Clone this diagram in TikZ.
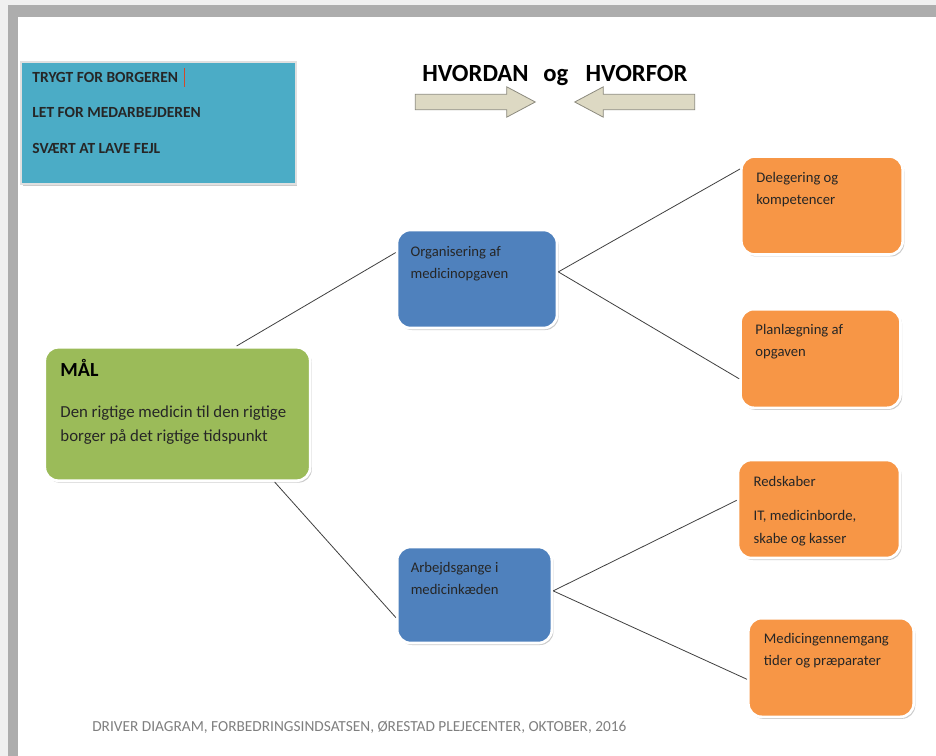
\documentclass[tikz,border=0pt]{standalone}
\usepackage{fontspec}
\setmainfont{Carlito}
\usepackage{tikz}
\usetikzlibrary{positioning,shapes.arrows,shadows}
\definecolor{safeteal}{HTML}{4BACC6}
\definecolor{goalgreen}{HTML}{9BBB59}
\definecolor{driverblue}{HTML}{4F81BD}
\definecolor{changeorange}{HTML}{F79646}
\definecolor{arrowbeige}{HTML}{DDD9C3}
\definecolor{arrowedge}{HTML}{8C8A7E}
\definecolor{linegray}{HTML}{404040}
\definecolor{footgray}{HTML}{7F7F7F}
\definecolor{cursorred}{HTML}{D04A2A}
\tikzset{
  drvbox/.style={
    rectangle, rounded corners=10pt, fill=#1, draw=white, line width=2pt,
    drop shadow={shadow xshift=1.2pt, shadow yshift=-1.5pt, fill=black!45, opacity=0.45},
    inner sep=0pt
  },
  drvbox/.default=driverblue,
  boxtext/.style={
    inner sep=0pt, align=left, text=black!85,
    font=\fontsize{11}{16.4}\selectfont
  },
  safetext/.style={
    anchor=base west, inner sep=0pt, text=black!85,
    font=\bfseries\fontsize{11.6}{13}\selectfont
  },
  blockarrow/.style={
    single arrow, fill=arrowbeige, draw=arrowedge, line width=0.6pt,
    inner sep=0pt, text height=11pt, text depth=0pt,
    minimum height=90pt, single arrow head extend=5.6pt,
    single arrow tip angle=56
  },
  conn/.style={draw=linegray, line width=0.6pt},
}

\begin{document}
\begin{tikzpicture}[x=0.75pt, y=-0.75pt]
  \useasboundingbox (0,0) rectangle (936,756);

  % screenshot frame
  \fill[black!6] (0,0) rectangle (936,756);
  \fill[black!32] (8,5) rectangle (936,756);
  \fill[white] (18,17) rectangle (936,756);

  % top left box
  \node[rectangle, fill=safeteal, draw=black!12, line width=1.5pt,
        drop shadow={shadow xshift=1pt, shadow yshift=-1.5pt, fill=black!45, opacity=0.45},
        minimum width=206pt, minimum height=91.5pt] (safe) at (158.5,123) {};
  \node[safetext] (trygt) at ([xshift=9pt,yshift=-16.5pt]safe.north west) {TRYGT FOR BORGEREN};
  \node[safetext] (let) at ([xshift=9pt,yshift=-42.75pt]safe.north west) {LET FOR MEDARBEJDEREN};
  \node[safetext] (svaert) at ([xshift=9pt,yshift=-69.75pt]safe.north west) {SVÆRT AT LAVE FEJL};
  \draw[cursorred, line width=1pt] ([xshift=4.5pt,yshift=-3pt]trygt.base east) -- ([xshift=4.5pt,yshift=11pt]trygt.base east);

  % title and block arrows
  \node[anchor=base west, inner sep=0pt, font=\bfseries\fontsize{18.5}{22}\selectfont] (title) at (422,82)
    {HVORDAN\hspace{11pt}og\hspace{13pt}HVORFOR};
  \node[blockarrow] (how) at (468,102) {};
  \node[blockarrow, shape border rotate=180] (why) at (642,102) {};

  % goal
  \node[drvbox=goalgreen, minimum width=199pt, minimum height=100pt] (mal) at (177.5,414) {};
  \node[anchor=base west, inner sep=0pt, font=\bfseries\fontsize{15}{18}\selectfont] (maltitle)
    at ([xshift=12.5pt,yshift=-23pt]mal.north west) {MÅL};
  \node[boxtext, font=\fontsize{12.6}{18}\selectfont, below right=44.5pt and 12.5pt of mal.north west] (maltext)
    {Den rigtige medicin til den rigtige\\borger på det rigtige tidspunkt};

  % primary drivers
  \node[drvbox, minimum width=120pt, minimum height=73.5pt] (org) at (477,279) {};
  \node[boxtext, below right=13pt and 11pt of org.north west] (orgtxt) {Organisering af\\medicinopgaven};
  \node[drvbox, minimum width=116pt, minimum height=72pt] (arb) at (474.5,595) {};
  \node[boxtext, below right=12.5pt and 11pt of arb.north west] (arbtxt) {Arbejdsgange i\\medicinkæden};

  % secondary drivers
  \node[drvbox=changeorange, minimum width=121pt, minimum height=73.5pt] (deleg) at (822,205.5) {};
  \node[boxtext, below right=13pt and 12pt of deleg.north west] (delegtxt) {Delegering og\\kompetencer};
  \node[drvbox=changeorange, minimum width=120pt, minimum height=74pt] (plan) at (820.5,358.5) {};
  \node[boxtext, below right=12.5pt and 12pt of plan.north west] (plantxt) {Planlægning af\\opgaven};
  \node[drvbox=changeorange, minimum width=121.5pt, minimum height=73.5pt] (red) at (819,509) {};
  \node[boxtext, font=\fontsize{11}{17}\selectfont, below right=13pt and 12.5pt of red.north west] (redtxt)
    {Redskaber\\[8.5pt]IT, medicinborde,\\skabe og kasser};
  \node[drvbox=changeorange, minimum width=124pt, minimum height=74pt] (gen) at (831,667.5) {};
  \node[boxtext, below right=12pt and 12.5pt of gen.north west] (gentxt) {Medicingennemgang\\tider og præparater};

  % connectors
  \foreach \a/\b in {mal.49/org.162, mal.-35/arb.196, org.5/deleg.156, org.5/plan.194.5,
                     arb.3/red.174, arb.3/gen.188.6} {
    \draw[conn] (\a) -- (\b);
  }

  % footer
  \node[anchor=base west, inner sep=0pt, text=footgray, font=\fontsize{11.5}{13}\selectfont] (foot) at (92,731)
    {DRIVER DIAGRAM, FORBEDRINGSINDSATSEN, ØRESTAD PLEJECENTER, OKTOBER, 2016};
\end{tikzpicture}
\end{document}
